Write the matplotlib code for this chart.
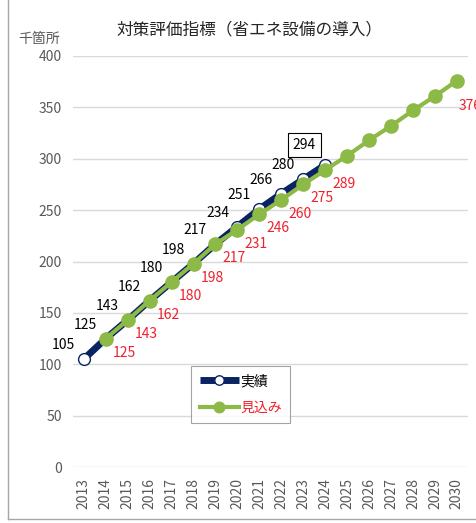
import matplotlib
matplotlib.use('Agg')
import matplotlib.pyplot as plt
from matplotlib.lines import Line2D

plt.rcParams['font.family'] = ['Noto Sans CJK JP', 'DejaVu Sans']

# 実績 / 見込み (千箇所)
years = [str(y) for y in range(2013, 2031)]
actual_years = years[:12]          # 2013-2024
actual = [105, 125, 143, 162, 180, 198, 217, 234, 251, 266, 280, 294]
plan_years = years[1:]             # 2014-2030
plan = [125, 143, 162, 180, 198, 217, 231, 246, 260, 275, 289,
        303, 318, 332, 347, 361, 376]
plan_labelled = years[1:12] + ['2030']

NAVY = '#0A2463'
GREEN = '#8DB946'
RED = '#F0202E'
GRAY = '#595959'

fig = plt.figure(figsize=(4.76, 5.23), dpi=100)
ax = fig.add_axes([0.153, 0.107, 0.830, 0.786])

xa = [years.index(y) for y in actual_years]
xp = [years.index(y) for y in plan_years]

ax.plot(xa, actual, color=NAVY, lw=5, marker='o', ms=8.5,
        mfc='white', mec=NAVY, mew=1.0, label='実績', zorder=3,
        solid_capstyle='butt')
ax.plot(xp, plan, color=GREEN, lw=3, marker='o', ms=9.5,
        mfc=GREEN, mec=GREEN, label='見込み', zorder=4)

# data labels
for x, v, y in zip(xa, actual, actual_years):
    box = None
    off = (-20, 14)
    if y == '2024':
        box = dict(boxstyle='square,pad=0.35', fc='white', ec='black', lw=0.8)
        off = (-21, 20)
    ax.annotate(str(v), (x, v), xytext=off, textcoords='offset pixels',
                ha='center', va='center', fontsize=10, color='black',
                bbox=box, zorder=6, annotation_clip=False)
for x, v, y in zip(xp, plan, plan_years):
    if y in plan_labelled:
        off = (13, -25) if y == '2030' else (19, -14)
        ax.annotate(str(v), (x, v), xytext=off,
                    textcoords='offset pixels', ha='center', va='center',
                    fontsize=10, color=RED, zorder=6, annotation_clip=False)

ax.set_xlim(-0.5, len(years) - 0.5)
ax.set_ylim(0, 400)
ax.set_yticks(range(0, 401, 50))
ax.set_xticks(range(len(years)))
ax.set_xticklabels(years, rotation=90, fontsize=10, color=GRAY)
ax.tick_params(axis='y', labelsize=10, labelcolor=GRAY)
ax.tick_params(length=0, pad=8)
ax.grid(axis='y', color='#D9D9D9', lw=1)
ax.set_axisbelow(True)
for s in ax.spines.values():
    s.set_visible(False)

leg = ax.legend(loc='lower left', bbox_to_anchor=(0.30, 0.107),
                fontsize=10, frameon=True, fancybox=False, handlelength=2.8,
                borderpad=0.6, labelspacing=0.9, handletextpad=0.1,
                borderaxespad=0, markerscale=0.8)
leg.get_frame().set_edgecolor('#8C8C8C')
leg.get_frame().set_linewidth(0.8)
for t, c in zip(leg.get_texts(), ['black', RED]):
    t.set_color(c)

fig.text(0.525, 0.943, '対策評価指標（省エネ設備の導入）', ha='center',
         va='center', fontsize=12, color='#262626')
fig.text(0.082, 0.925, '千箇所', ha='center', va='center', fontsize=10,
         color=GRAY)

# outer frame (left and bottom edges)
fig.add_artist(Line2D([0.017, 0.017], [0.008, 1.0], color='#A6A6A6', lw=1))
fig.add_artist(Line2D([0.017, 1.0], [0.008, 0.008], color='#A6A6A6', lw=1))

fig.savefig('out.png', dpi=100)
